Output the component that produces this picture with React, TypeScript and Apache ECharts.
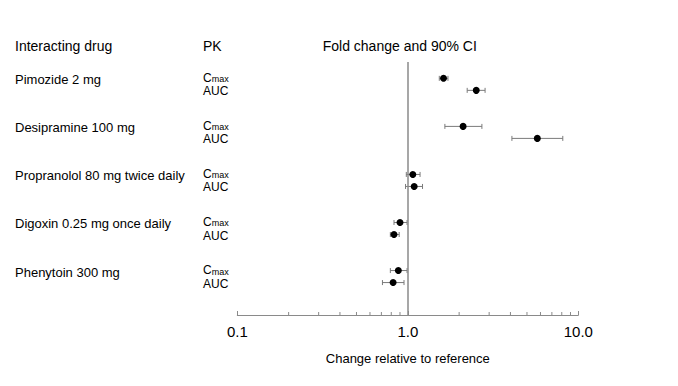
import React, { useEffect, useRef } from "react";
import * as echarts from "echarts";

const drugs = [
  "Pimozide 2 mg",
  "Desipramine 100 mg",
  "Propranolol 80 mg twice daily",
  "Digoxin 0.25 mg once daily",
  "Phenytoin 300 mg",
];
const pkParams = ["Cmax", "AUC"];
// fold change [Cmax, AUC] per drug
const estimates = [
  [1.62, 2.52],
  [2.11, 5.75],
  [1.07, 1.09],
  [0.9, 0.83],
  [0.88, 0.82],
];
const lowerCI = [
  [1.53, 2.23],
  [1.65, 4.08],
  [0.98, 0.97],
  [0.83, 0.79],
  [0.79, 0.71],
];
const upperCI = [
  [1.72, 2.84],
  [2.72, 8.11],
  [1.18, 1.22],
  [0.99, 0.89],
  [0.99, 0.95],
];
const xTickLabels = ["0.1", "1.0", "10.0"];
const majorTicks = [0.1, 1, 10];
const minorTicks = [0.2, 0.3, 0.4, 0.5, 0.6, 0.7, 0.8, 0.9, 2, 3, 4, 5, 6, 7, 8, 9];
const headers = ["Interacting drug", "PK", "Fold change and 90% CI"];

const FONT = "'Liberation Sans', Arial, Helvetica, sans-serif";
const Y_MIN = -1.36;
const Y_MAX = 19.7;

export default function App() {
  const ref = useRef<HTMLDivElement>(null);
  useEffect(() => {
    if (!ref.current) return;
    const chart = echarts.init(ref.current, undefined, { renderer: "svg" });

    const rowPos = (g: number, k: number) => g * 4 + k;
    const pointData: any[] = [];
    const ciData: any[] = [];
    drugs.forEach((_, g) => {
      pkParams.forEach((_, k) => {
        pointData.push([estimates[g][k], rowPos(g, k)]);
        ciData.push([lowerCI[g][k], upperCI[g][k], rowPos(g, k)]);
      });
    });

    const option: any = {
      animation: false,
      backgroundColor: "#ffffff",
      grid: { left: 237.3, right: 99.7, top: 62, bottom: 71, containLabel: false },
      xAxis: {
        type: "log",
        logBase: 10,
        min: 0.1,
        max: 10,
        position: "bottom",
        name: "Change relative to reference",
        nameLocation: "middle",
        nameGap: 37,
        nameTextStyle: { fontFamily: FONT, fontSize: 13, color: "#000" },
        axisLine: { show: true, onZero: false, lineStyle: { color: "#8a8a8a", width: 1 } },
        axisTick: { show: true, inside: true, length: 4, lineStyle: { color: "#8a8a8a" } },
        splitLine: { show: false },
        axisLabel: {
          fontFamily: FONT,
          fontSize: 15,
          color: "#000",
          margin: 9,
          formatter: (v: number) => {
            for (let i = 0; i < majorTicks.length; i++) {
              if (Math.abs(v - majorTicks[i]) / majorTicks[i] < 1e-6) return xTickLabels[i];
            }
            return "";
          },
        },
      },
      yAxis: {
        type: "value",
        inverse: true,
        min: Y_MIN,
        max: Y_MAX,
        show: false,
      },
      graphic: [
        { type: "text", left: 15, top: 39, style: { text: headers[0], font: `14px ${FONT}`, fill: "#000" } },
        { type: "text", left: 203, top: 39, style: { text: headers[1], font: `14px ${FONT}`, fill: "#000" } },
        { type: "text", left: 322.7, top: 39, style: { text: headers[2], font: `14px ${FONT}`, fill: "#000" } },
      ],
      series: [
        {
          type: "custom",
          name: "minorTicks",
          silent: true,
          clip: false,
          data: minorTicks.map((v) => [v]),
          renderItem: (params: any, api: any) => {
            const p = api.coord([api.value(0), Y_MAX]);
            return {
              type: "line",
              shape: { x1: p[0], y1: p[1], x2: p[0], y2: p[1] - 3 },
              style: { stroke: "#8a8a8a", lineWidth: 1 },
            };
          },
          z: 1,
        },
        {
          type: "custom",
          name: "labels",
          silent: true,
          clip: false,
          data: drugs.map((_, g) => [g]),
          renderItem: (params: any, api: any) => {
            const g = api.value(0);
            const y0 = api.coord([1, rowPos(g, 0)])[1];
            const y1 = api.coord([1, rowPos(g, 1)])[1];
            return {
              type: "group",
              children: [
                {
                  type: "text",
                  x: 15,
                  y: y0 + 1.5,
                  style: {
                    text: drugs[g],
                    font: `13px ${FONT}`,
                    fill: "#000",
                    verticalAlign: "middle",
                    align: "left",
                  },
                },
                {
                  type: "text",
                  x: 203,
                  y: y0 + 0.5,
                  style: {
                    text: "{c|C}{s|max}",
                    verticalAlign: "middle",
                    align: "left",
                    rich: {
                      c: { fontFamily: FONT, fontSize: 12, fill: "#000", color: "#000", lineHeight: 10, verticalAlign: "bottom" },
                      s: { fontFamily: FONT, fontSize: 9, fill: "#000", color: "#000", lineHeight: 8, verticalAlign: "bottom" },
                    },
                  },
                },
                {
                  type: "text",
                  x: 203,
                  y: y1 + 1,
                  style: {
                    text: pkParams[1],
                    fontFamily: FONT,
                    fontSize: 12,
                    lineHeight: 10,
                    fill: "#000",
                    verticalAlign: "middle",
                    align: "left",
                  },
                },
              ],
            };
          },
        },
        {
          type: "custom",
          name: "CI",
          silent: true,
          data: ciData,
          renderItem: (params: any, api: any) => {
            const a = api.coord([api.value(0), api.value(2)]);
            const b = api.coord([api.value(1), api.value(2)]);
            const h = 2.5;
            const st = { stroke: "#7a7a7a", lineWidth: 1 };
            return {
              type: "group",
              children: [
                { type: "line", shape: { x1: a[0], y1: a[1], x2: b[0], y2: b[1] }, style: st },
                { type: "line", shape: { x1: a[0], y1: a[1] - h, x2: a[0], y2: a[1] + h }, style: st },
                { type: "line", shape: { x1: b[0], y1: b[1] - h, x2: b[0], y2: b[1] + h }, style: st },
              ],
            };
          },
          z: 2,
        },
        {
          type: "scatter",
          name: "Fold change",
          data: pointData,
          symbol: "circle",
          symbolSize: 7,
          itemStyle: { color: "#000", opacity: 1 },
          z: 3,
          markLine: {
            silent: true,
            symbol: "none",
            label: { show: false },
            lineStyle: { color: "#8a8a8a", width: 1.5, type: "solid" },
            data: [{ xAxis: 1 }],
          },
        },
      ],
    };
    chart.setOption(option);
    return () => chart.dispose();
  }, []);

  return <div ref={ref} style={{ width: 678, height: 386, margin: -8, background: "#fff" }} />;
}
